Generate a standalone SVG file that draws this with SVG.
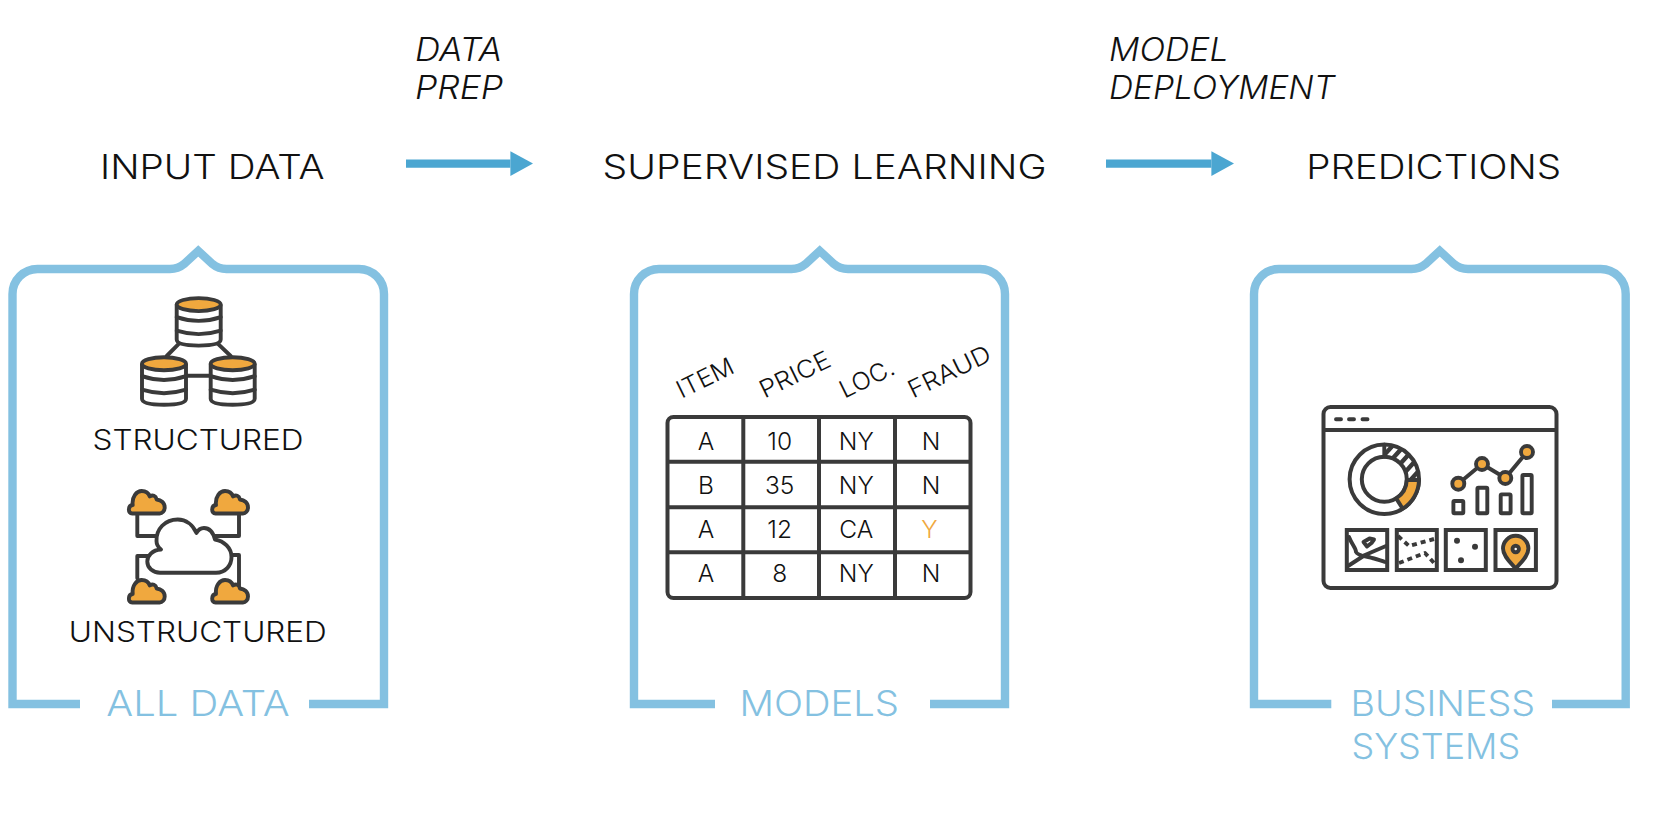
<svg xmlns="http://www.w3.org/2000/svg" width="1678" height="814" viewBox="0 0 1678 814">
<style>
text{font-family:Inter,"Liberation Sans",sans-serif;font-weight:300;fill:#111}
.h{font-size:34px}
.i{font-size:32px;font-style:italic}
.b{font-size:35px;fill:#84c1e1}
.s{font-size:28px}
.t{font-size:24.5px;text-anchor:middle}
.r{font-size:24.5px}
.br{fill:none;stroke:#84c1e1;stroke-width:8.4;stroke-linejoin:miter}
.d{fill:none;stroke:#3a3a3a;stroke-width:3.9;stroke-linejoin:round;stroke-linecap:round}
.dm{fill:none;stroke:#3a3a3a;stroke-width:4;stroke-linejoin:miter}
.o{fill:#f0a83e;stroke:#3a3a3a;stroke-width:3.9;stroke-linejoin:round}
.w{fill:#fff;stroke:#3a3a3a;stroke-width:3.9;stroke-linejoin:round}
.ar{stroke:#4ba6d1;stroke-width:8.2;fill:none}
</style>
<defs>
<marker id="ah" markerUnits="userSpaceOnUse" markerWidth="24" markerHeight="26" refX="0" refY="12.4" orient="auto"><path d="M0 0L22.6 12.4L0 24.8Z" fill="#4ba6d1"/></marker>
<g id="db">
<path class="w" d="M-22 0V35Q-22 41 0 41Q22 41 22 35V0"/>
<path class="d" d="M-22 12.5Q0 20 22 12.5M-22 26Q0 33 22 26"/>
<ellipse class="o" cx="0" cy="0" rx="22" ry="6.5"/>
</g>
<path id="cl" class="o" d="M5.5 24C1 24 1 16 6 15.5C5 7 10 1.5 15 1.5C19 1.5 22 4 23 7C26 5 29 6 30 10C34 10.5 38 13 38 18C38 21.5 35.5 24 33 24Z"/>
<clipPath id="hc"><path d="M1384.3 444.6A34.7 34.7 0 0 1 1419 480L1406.8 480A22.5 22.5 0 0 0 1384.3 456.8Z"/></clipPath>
</defs>
<rect width="1678" height="814" fill="#fff"/>

<g id="connectors">
<line class="ar" x1="406" y1="163.6" x2="510.4" y2="163.6" marker-end="url(#ah)"/>
<line class="ar" x1="1106" y1="163.6" x2="1211.4" y2="163.6" marker-end="url(#ah)"/>
</g>

<g id="labels">
<text class="i" x="415" y="60.8" textLength="87" lengthAdjust="spacingAndGlyphs">DATA</text>
<text class="i" x="415" y="99" textLength="88" lengthAdjust="spacingAndGlyphs">PREP</text>
<text class="i" x="1109" y="60.8" textLength="119.5" lengthAdjust="spacingAndGlyphs">MODEL</text>
<text class="i" x="1109" y="99" textLength="226" lengthAdjust="spacingAndGlyphs">DEPLOYMENT</text>
</g>

<g id="node-input">
<text class="h" x="100" y="179" textLength="224.5" lengthAdjust="spacingAndGlyphs">INPUT DATA</text>
<path class="br" d="M80 704H12.5V294A25 25 0 0 1 37.5 269H170Q178 269 184 264L198.25 251L212.5 264Q218.5 269 226.5 269H359A25 25 0 0 1 384 294V704H309"/>
<text class="b" x="106.3" y="716.4" textLength="183.4" lengthAdjust="spacingAndGlyphs">ALL DATA</text>
<g id="structured-icon">
<path class="d" d="M180 342.7L166.7 356M216.7 342.7L230.7 356M187 375.7H209"/>
<use href="#db" x="198.7" y="304.6"/>
<use href="#db" x="164" y="363.7"/>
<use href="#db" x="232.7" y="363.7"/>
</g>
<text class="s" x="92.5" y="450" textLength="211" lengthAdjust="spacingAndGlyphs">STRUCTURED</text>
<g id="unstructured-icon">
<path class="d" d="M137.3 515V536H156.7M239 515V536H213M148.3 556H137.3V578.3M232.7 555H239V585"/>
<path class="w" d="M160 572.7H216C226 572.7 231.5 565 231.5 557C231.5 548 224 541 215 539.5C213 532 209 528 204 528C201 528 198 530 196.5 533C193 525 186 519.5 177.7 519.5C165 519.5 156 529 156.5 541C156.5 544 158 547 161 549.5C152 550 147.3 556 147.3 561.5C147.3 568 153 572.7 160 572.7Z"/>
<use href="#cl" x="126.7" y="489.5"/>
<use href="#cl" x="210" y="489.5"/>
<use href="#cl" x="126.7" y="578.5"/>
<use href="#cl" x="210" y="578.5"/>
</g>
<text class="s" x="68.8" y="641.8" textLength="258" lengthAdjust="spacingAndGlyphs">UNSTRUCTURED</text>
</g>

<g id="node-learning">
<text class="h" x="602.5" y="179" textLength="444" lengthAdjust="spacingAndGlyphs">SUPERVISED LEARNING</text>
<path class="br" d="M715 704H634V294A25 25 0 0 1 659 269H791.5Q799.5 269 805.5 264L819.75 251L834 264Q840 269 848 269H980A25 25 0 0 1 1005 294V704H930"/>
<text class="b" x="739.5" y="716.4" textLength="159.5" lengthAdjust="spacingAndGlyphs">MODELS</text>
<g id="table">
<text class="r" transform="translate(681.5 398.8) rotate(-26)" textLength="60.7" lengthAdjust="spacingAndGlyphs">ITEM</text>
<text class="r" transform="translate(764.5 398.8) rotate(-26)" textLength="76" lengthAdjust="spacingAndGlyphs">PRICE</text>
<text class="r" transform="translate(844.5 398.8) rotate(-26)" textLength="58" lengthAdjust="spacingAndGlyphs">LOC.</text>
<text class="r" transform="translate(913 398.8) rotate(-26)" textLength="89" lengthAdjust="spacingAndGlyphs">FRAUD</text>
<rect class="dm" x="667.5" y="417" width="303" height="181" rx="6"/>
<path class="dm" d="M743.3 417V598M819 417V598M895 417V598M667.5 461.7H970.5M667.5 507.3H970.5M667.5 552.3H970.5"/>
<text class="t" x="706" y="450">A</text><text class="t" x="779.7" y="450">10</text><text class="t" x="856.3" y="450">NY</text><text class="t" x="931" y="450">N</text>
<text class="t" x="706" y="494">B</text><text class="t" x="779.7" y="494">35</text><text class="t" x="856.3" y="494">NY</text><text class="t" x="931" y="494">N</text>
<text class="t" x="706" y="538">A</text><text class="t" x="779.7" y="538">12</text><text class="t" x="856.3" y="538">CA</text><text class="t" x="929.5" y="538" style="fill:#f0a83e">Y</text>
<text class="t" x="706" y="581.7">A</text><text class="t" x="779.7" y="581.7">8</text><text class="t" x="856.3" y="581.7">NY</text><text class="t" x="931" y="581.7">N</text>
</g>
</g>

<g id="node-predictions">
<text class="h" x="1306.2" y="179" textLength="255" lengthAdjust="spacingAndGlyphs">PREDICTIONS</text>
<path class="br" d="M1331.3 704H1254V294A25 25 0 0 1 1279 269H1411.5Q1419.5 269 1425.5 264L1439.75 251L1454 264Q1460 269 1468 269H1600.7A25 25 0 0 1 1625.7 294V704H1552"/>
<text class="b" x="1350.5" y="716.4" textLength="184.5" lengthAdjust="spacingAndGlyphs">BUSINESS</text>
<text class="b" x="1351.5" y="759.3" textLength="168.6" lengthAdjust="spacingAndGlyphs">SYSTEMS</text>
<g id="dashboard">
<rect class="dm" x="1323.5" y="407" width="233" height="181" rx="7"/>
<path class="dm" d="M1323.5 430H1556.5"/>
<path class="d" d="M1336 419.3H1341M1349 419.3H1354M1362.5 419.3H1367.5"/>
<circle class="dm" cx="1384.3" cy="479.3" r="34.7"/>
<circle class="dm" cx="1384.3" cy="479.3" r="22.5"/>
<g clip-path="url(#hc)" stroke="#3a3a3a" stroke-width="4.4">
<path d="M1378 462L1396 442M1385 467L1403 447M1392 473L1410 453M1399 479L1417 459M1406 485L1424 465"/>
</g>
<path class="d" d="M1384.3 444.6V456.8M1419 480H1406.8"/>
<path class="o" d="M1419 480A34.7 34.7 0 0 1 1402.7 508.7L1396.2 498.4A22.5 22.5 0 0 0 1406.8 480Z"/>
<path class="d" d="M1458.3 483.7L1482 464L1505.3 478L1527 452"/>
<circle class="o" cx="1458.3" cy="483.7" r="6"/>
<circle class="o" cx="1482" cy="464" r="6"/>
<circle class="o" cx="1505.3" cy="478" r="6"/>
<circle class="o" cx="1527" cy="452" r="6"/>
<rect class="d" x="1453.4" y="501" width="9.9" height="12.3" rx="1"/>
<rect class="d" x="1477.4" y="487.7" width="9.9" height="25.6" rx="1"/>
<rect class="d" x="1500.7" y="494.4" width="9.9" height="18.9" rx="1"/>
<rect class="d" x="1522.4" y="475" width="9.3" height="38.3" rx="1"/>
<rect class="dm" x="1346.8" y="530" width="40.4" height="40"/>
<rect class="dm" x="1396.8" y="530" width="40" height="40"/>
<rect class="dm" x="1445.8" y="530" width="40" height="40"/>
<rect class="dm" x="1495.5" y="530" width="40.4" height="40"/>
<path class="d" d="M1349 537C1352 545 1356 548 1356 552C1358 556 1366 556 1372 558C1377 559 1382 561 1385 562M1348 566L1365 555L1386 546"/>
<path class="d" d="M1363.5 542L1369.5 538.5L1374 539.5L1371.5 543L1367 546.5Z"/>
<path class="d" stroke-dasharray="5 4" style="stroke-linecap:butt" d="M1398 536L1409 546L1434 539M1399 563L1425 553L1435 564"/>
<circle cx="1457" cy="540.7" r="3" fill="#3a3a3a"/>
<circle cx="1475" cy="546.7" r="3" fill="#3a3a3a"/>
<circle cx="1461" cy="560.3" r="3" fill="#3a3a3a"/>
<path class="o" d="M1515.7 568.5C1510 562 1503 556 1503 548.5A12.7 12.7 0 0 1 1528.4 548.5C1528.4 556 1521.4 562 1515.7 568.5Z"/>
<circle class="w" cx="1515.7" cy="549" r="3.2"/>
</g>
</g>
</svg>
